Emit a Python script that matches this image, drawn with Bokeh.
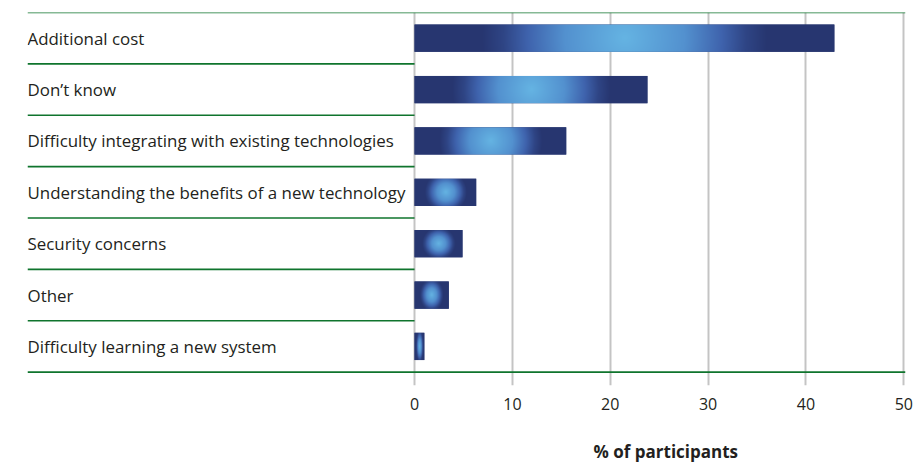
import numpy as np
from bokeh.plotting import figure
from bokeh.models import Range1d, FixedTicker, Title, ColumnDataSource
from bokeh.core.properties import value
from bokeh.embed import file_html
from bokeh.resources import INLINE

# ---- data ----
categories = [
    "Additional cost",
    "Don\u2019t know",
    "Difficulty integrating with existing technologies",
    "Understanding the benefits of a new technology",
    "Security concerns",
    "Other",
    "Difficulty learning a new system",
]
percent = [42.9, 23.8, 15.5, 6.3, 4.9, 3.5, 1.0]
x_ticks = [0, 10, 20, 30, 40, 50]
axis_title = "% of participants"

# ---- layout constants ----
X_START, X_END = -39.55, 50.17
FRAME_W, FRAME_H = 878, 373
Y_BOTTOM = -0.26
N = len(categories)
BAR_H = 0.53
FONT = "Open Sans"
TEXT_COLOR = "#231f20"
GREEN = "#0f742d"

px_x = FRAME_W / (X_END - X_START)
px_y = FRAME_H / (N - Y_BOTTOM)

centers = [N - i - 0.5 for i in range(N)]

# gradient ramp
stops_t = [0.0, 0.42, 0.68, 0.85, 1.0]
stops_c = ["#65b4e3", "#5391cf", "#3f63ad", "#2f4585", "#273670"]


def hex_rgb(h):
    h = h.lstrip("#")
    return [int(h[i:i + 2], 16) for i in (0, 2, 4)]


rgb_stops = np.array([hex_rgb(c) for c in stops_c], dtype=float)


def bar_image(val):
    w_px = val * px_x
    h_px = BAR_H * px_y
    nx = max(4, int(round(w_px * 2)))
    ny = max(4, int(round(h_px * 2)))
    xs = (np.arange(nx) + 0.5) / nx * w_px - w_px / 2
    ys = (np.arange(ny) + 0.5) / ny * h_px - h_px / 2
    X, Y = np.meshgrid(xs, ys)
    rx = 0.68 * w_px / 2
    ry = max(rx, 0.6 * h_px)
    t = np.clip(np.sqrt((X / rx) ** 2 + (Y / ry) ** 2), 0, 1)
    img = np.empty((ny, nx), dtype=np.uint32)
    view = img.view(dtype=np.uint8).reshape((ny, nx, 4))
    for k in range(3):
        view[:, :, k] = np.interp(t, stops_t, rgb_stops[:, k]).astype(np.uint8)
    view[:, :, 3] = 255
    return img


p = figure(
    width=914, height=462,
    x_range=Range1d(X_START, X_END), y_range=Range1d(Y_BOTTOM, N),
    output_backend="svg", toolbar_location=None, y_axis_location=None,
    min_border_left=27, min_border_right=9, min_border_top=12, min_border_bottom=77,
)
p.outline_line_color = None
p.background_fill_color = "white"

# grid
p.xgrid.ticker = FixedTicker(ticks=x_ticks)
p.xgrid.grid_line_color = "#c4c4c4"
p.xgrid.grid_line_width = 2
p.ygrid.grid_line_color = None

# green separators
bounds = list(range(N + 1))
x1s = [X_END if (b == 0 or b == N) else 0 for b in bounds]
p.segment(x0=[X_START] * len(bounds), y0=bounds, x1=x1s, y1=bounds,
          line_color=GREEN, line_width=1.7)

# bars
src = ColumnDataSource(dict(
    y=centers, right=percent,
    img=[bar_image(v) for v in percent],
    x0=[0] * N, yb=[c - BAR_H / 2 for c in centers],
    dh=[BAR_H] * N,
))
p.hbar(y="y", left=0, right="right", height=BAR_H, source=src,
       fill_color="#273670", line_color=None)
p.image_rgba(image="img", x="x0", y="yb", dw="right", dh="dh", source=src)

# category labels
p.text(x=[X_START] * N, y=centers, text=categories,
       text_font=value(FONT), text_font_size="16.9px",
       text_baseline="middle", text_align="left", text_color=TEXT_COLOR)

# x axis
ax = p.xaxis[0]
ax.ticker = FixedTicker(ticks=x_ticks)
ax.axis_line_color = None
ax.major_tick_line_color = None
ax.minor_tick_line_color = None
ax.major_label_standoff = 6
ax.major_label_text_font = FONT
ax.major_label_text_font_size = "16px"
ax.major_label_text_color = TEXT_COLOR
# blank spacer label so the title below sits at the right height
ax.axis_label = " "
ax.axis_label_standoff = 0
ax.axis_label_text_font = FONT
ax.axis_label_text_font_size = "15.5px"

p.add_layout(Title(text=axis_title, align="left", offset=566, standoff=0,
                   text_font=FONT, text_font_size="17px",
                   text_font_style="bold", text_color=TEXT_COLOR), "below")

open("out.html", "w").write(file_html(p, INLINE))
